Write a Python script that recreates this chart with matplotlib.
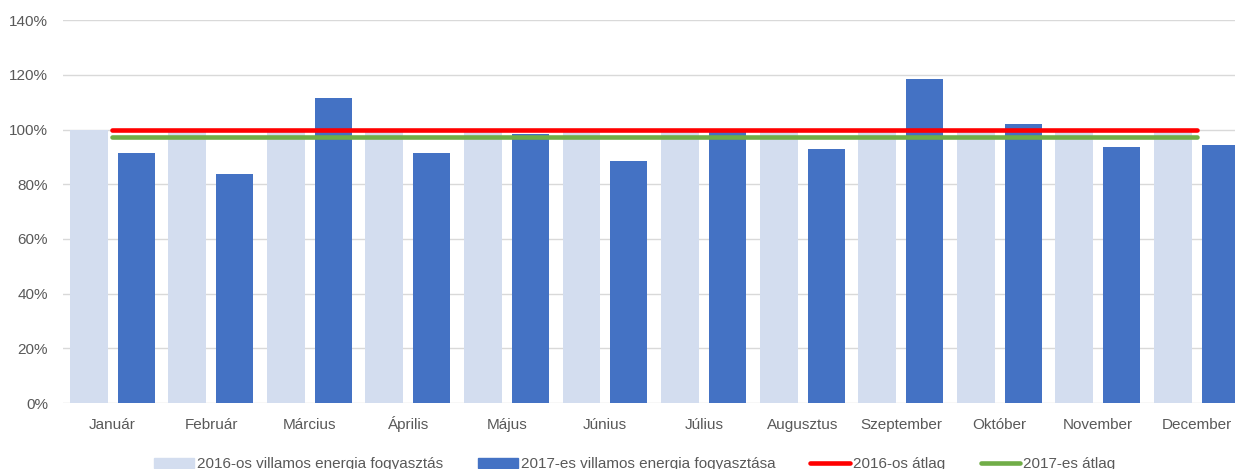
import numpy as np
import matplotlib.pyplot as plt
from matplotlib.lines import Line2D
from matplotlib.patches import Patch

plt.rcParams['font.family'] = ['Liberation Sans', 'DejaVu Sans']

honapok = ["Január", "Február", "Március", "Április", "Május", "Június",
           "Július", "Augusztus", "Szeptember", "Október", "November", "December"]
fogy_2016 = [1.00, 1.00, 1.00, 1.00, 1.00, 1.00, 1.00, 1.00, 1.00, 1.00, 1.00, 1.00]
fogy_2017 = [0.914, 0.839, 1.116, 0.914, 0.983, 0.884, 1.004, 0.931, 1.187, 1.021, 0.936, 0.943]
atlag_2016 = [1.00, 1.00, 1.00, 1.00, 1.00, 1.00, 1.00, 1.00, 1.00, 1.00, 1.00, 1.00]
atlag_2017 = [0.973, 0.973, 0.973, 0.973, 0.973, 0.973, 0.973, 0.973, 0.973, 0.973, 0.973, 0.973]
yticks = [0, 0.2, 0.4, 0.6, 0.8, 1.0, 1.2, 1.4]

c_light = '#d3ddef'
c_dark = '#4472c4'
c_red = '#ff0000'
c_green = '#70ad47'
c_text = '#595959'

fig = plt.figure(figsize=(12.35, 4.69), dpi=100)
ax = fig.add_axes([63.2/1235, 66/469, 1182.6/1235, 382.7/469])

x = np.arange(len(honapok))
ax.bar(x - 0.241, fogy_2016, width=0.385, color=c_light, zorder=2)
ax.bar(x + 0.241, fogy_2017, width=0.375, color=c_dark, zorder=2)
ax.plot(x, atlag_2016, color=c_red, lw=3.3, solid_capstyle='round', zorder=3)
ax.plot(x, atlag_2017, color=c_green, lw=3.3, solid_capstyle='round', zorder=3)

ax.set_xlim(-0.5, 11.5)
ax.set_ylim(0, 1.4)
ax.set_yticks(yticks)
ax.set_yticklabels([f"{int(round(v*100))}%" for v in yticks])
ax.set_xticks(x)
ax.set_xticklabels(honapok, va='baseline')
ax.tick_params(axis='both', length=0, colors=c_text, labelsize=11)
ax.tick_params(axis='y', pad=11)
ax.tick_params(axis='x', pad=19)
ax.grid(axis='y', color='#d9d9d9', lw=1, zorder=0)
for s in ax.spines.values():
    s.set_visible(False)

handles = [Patch(color=c_light), Patch(color=c_dark),
           Line2D([0], [0], color=c_red, lw=3.3, solid_capstyle='round'),
           Line2D([0], [0], color=c_green, lw=3.3, solid_capstyle='round')]
labels = ["2016-os villamos energia fogyasztás", "2017-es villamos energia fogyasztása",
          "2016-os átlag", "2017-es átlag"]
fig.legend(handles, labels, ncol=4, loc='center', bbox_to_anchor=(0.514, 0.010),
           frameon=False, fontsize=11, labelcolor=c_text, handlelength=2.6,
           handletextpad=0.2, columnspacing=2.3, borderaxespad=0)

plt.savefig("out.png", dpi=100)
